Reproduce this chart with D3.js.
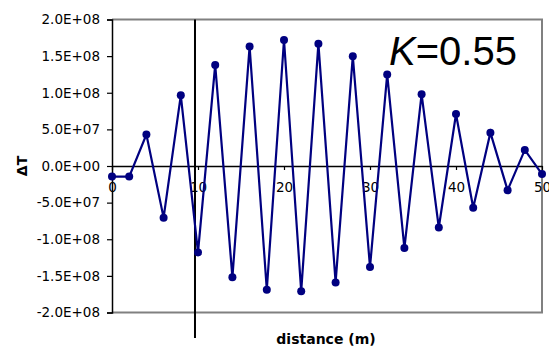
<!DOCTYPE html>
<html>
<head>
<meta charset="utf-8">
<script src="https://cdn.jsdelivr.net/npm/d3@7"></script>
<style>
  html, body { margin: 0; padding: 0; background: #ffffff; }
  svg { display: block; }
  text { font-family: "DejaVu Sans", Verdana, sans-serif; fill: #000; }
</style>
</head>
<body>
<svg id="chart" width="549" height="349"></svg>
<script>
// Distance along the line (m)
const distance = [0, 2, 4, 6, 8, 10, 12, 14, 16, 18, 20, 22, 24, 26, 28, 30, 32, 34, 36, 38, 40, 42, 44, 46, 48, 50];
// Temperature difference ΔT at each distance
const deltaT = [-1.45e7, -1.45e7, 4.3e7, -7.05e7, 9.65e7, -1.18e8, 1.38e8, -1.52e8, 1.63e8, -1.69e8,
                1.72e8, -1.71e8, 1.67e8, -1.59e8, 1.50e8, -1.38e8, 1.25e8, -1.12e8, 9.8e7, -8.4e7,
                7.1e7, -5.7e7, 4.55e7, -3.3e7, 2.2e7, -1.1e7];
const xTicks = [0, 10, 20, 30, 40, 50];
const yTicks = [-2e8, -1.5e8, -1e8, -5e7, 0, 5e7, 1e8, 1.5e8, 2e8];
const markerDistance = 9.65;
const kValue = "0.55";

const svg = d3.select("#chart");
const plotLeft = 112, plotRight = 542, plotTop = 19.5, plotBottom = 312.5;

const x = d3.scaleLinear().domain([0, 50]).range([plotLeft, plotRight]);
const y = d3.scaleLinear().domain([-2e8, 2e8]).range([plotBottom, plotTop]);

const fmtExp = v => {
  if (v === 0) return "0.0E+00";
  const e = Math.floor(Math.log10(Math.abs(v)));
  const m = v / Math.pow(10, e);
  return m.toFixed(1) + "E+" + String(e).padStart(2, "0");
};

// plot frame (grey top, right and bottom)
svg.append("path")
  .attr("d", `M${plotLeft},${plotTop}H${plotRight}V${plotBottom}H${plotLeft}`)
  .attr("fill", "none")
  .attr("stroke", "#808080")
  .attr("stroke-width", 2);

// y axis
const yAxis = svg.append("g")
  .attr("transform", `translate(${plotLeft},0)`)
  .call(d3.axisLeft(y).tickValues(yTicks).tickFormat(fmtExp).tickSize(5).tickPadding(7));
yAxis.select(".domain").attr("stroke", "#000").attr("stroke-width", 1.5);
yAxis.selectAll(".tick line").attr("stroke", "#000").attr("stroke-width", 1.2);
yAxis.selectAll(".tick text")
  .attr("font-family", "DejaVu Sans, Verdana, sans-serif")
  .attr("font-size", 13.5)
  .attr("fill", "#000");

// x axis along zero
const xAxis = svg.append("g")
  .attr("transform", `translate(0,${y(0)})`)
  .call(d3.axisBottom(x).tickValues(xTicks).tickFormat(d3.format("d")).tickSize(4).tickPadding(12).tickSizeOuter(0));
xAxis.select(".domain").attr("stroke", "#000").attr("stroke-width", 1.5);
xAxis.selectAll(".tick line").attr("stroke", "#000").attr("stroke-width", 1.2);
xAxis.selectAll(".tick text")
  .attr("font-family", "DejaVu Sans, Verdana, sans-serif")
  .attr("font-size", 13.5)
  .attr("fill", "#000");

// vertical reference line
svg.append("line")
  .attr("x1", x(markerDistance)).attr("x2", x(markerDistance))
  .attr("y1", plotTop).attr("y2", 338)
  .attr("stroke", "#000")
  .attr("stroke-width", 2);

// series
const pts = distance.map((d, i) => [d, deltaT[i]]);
svg.append("path")
  .datum(pts)
  .attr("fill", "none")
  .attr("stroke", "#000080")
  .attr("stroke-width", 2.2)
  .attr("d", d3.line().x(d => x(d[0])).y(d => y(d[1])));

svg.append("g").selectAll("circle")
  .data(pts)
  .join("circle")
  .attr("cx", d => x(d[0]))
  .attr("cy", d => y(d[1]))
  .attr("r", 4)
  .attr("fill", "#000080");

// axis titles
svg.append("text")
  .attr("transform", `translate(27,${y(0)}) rotate(-90)`)
  .attr("text-anchor", "middle")
  .attr("font-weight", "bold")
  .attr("font-size", 14)
  .text("ΔT");

svg.append("text")
  .attr("x", 326).attr("y", 344)
  .attr("text-anchor", "middle")
  .attr("font-weight", "bold")
  .attr("font-size", 14)
  .text("distance (m)");

// K annotation
const kText = svg.append("text")
  .attr("x", 389).attr("y", 65)
  .attr("font-size", 40)
  .style("font-family", "'Liberation Sans', Arial, sans-serif");
kText.append("tspan").attr("font-style", "italic").text("K");
kText.append("tspan").text("=" + kValue);
</script>
</body>
</html>
